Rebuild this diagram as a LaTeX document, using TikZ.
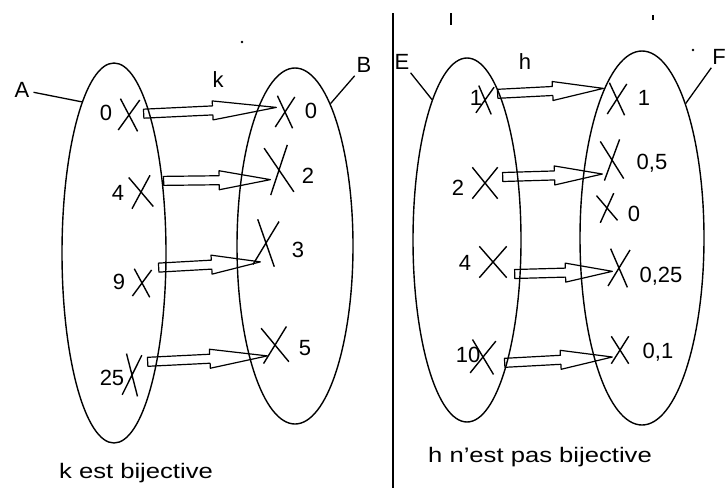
\documentclass[tikz,border=0pt]{standalone}
\usepackage{fontspec}
\setmainfont{Liberation Sans}
\usetikzlibrary{calc,shapes.misc,shapes.geometric}
\begin{document}
\begin{tikzpicture}[x=1pt,y=-1pt,
  setshape/.style={draw, ellipse, line width=1.4pt, inner sep=0pt},
  cr/.style={cross out, draw, line width=1.4pt, inner sep=0pt},
  lab/.style={inner sep=0pt, font=\fontsize{22}{22}\selectfont},
  captext/.style={inner sep=0pt, anchor=base, font=\fontsize{21}{21}\selectfont},
  tickmark/.style={line width=1.4pt},
  fat/.style={draw, line width=1.2pt, line join=round, to path={
     ($(\tikztostart)!4.5pt!90:(\tikztotarget)$)
  -- ($(\tikztostart)!0.52!(\tikztotarget)!4.5pt!90:(\tikztotarget)$)
  -- ($(\tikztostart)!0.52!(\tikztotarget)!9.5pt!90:(\tikztotarget)$)
  -- (\tikztotarget)
  -- ($(\tikztostart)!0.52!(\tikztotarget)!9.5pt!-90:(\tikztotarget)$)
  -- ($(\tikztostart)!0.52!(\tikztotarget)!4.5pt!-90:(\tikztotarget)$)
  -- ($(\tikztostart)!4.5pt!-90:(\tikztotarget)$) -- cycle }}]
\useasboundingbox (0,0) rectangle (727,488);

% sets
\node[setshape, minimum width=104pt, minimum height=380pt] (setA) at (114,253) {};
\node[setshape, minimum width=116pt, minimum height=356pt] (setB) at (295,246) {};
\node[setshape, minimum width=108pt, minimum height=364pt] (setE) at (467,240) {};
\node[setshape, minimum width=124pt, minimum height=374pt] (setF) at (642,238) {};

% divider
\coordinate (dtop) at (393,13);
\coordinate (dbot) at (393,488);
\draw[line width=1.6pt] (dtop) -- (dbot);

% set names
\node[lab, inner sep=4pt] (labA) at (22,90) {A};
\node[lab, inner sep=3pt] (labB) at (364,65) {B};
\node[lab, inner sep=3pt] (labE) at (402,62) {E};
\node[lab, inner sep=3pt] (labF) at (719,57) {F};
\draw[line width=1.3pt] (labA) -- (setA.102);
\draw[line width=1.3pt] (setB.76) -- (labB);
\draw[line width=1.3pt] (labE) -- (setE.104);
\draw[line width=1.3pt] (setF.72) -- (labF);

% function names
\node[lab] (k) at (218,80) {k};
\node[lab] (h) at (525,62) {h};

% stray marks
\fill (242,42) circle (1.4pt);
\fill (693,50) circle (1.4pt);
\draw[tickmark] (451,13) -- (451,25);
\draw[tickmark] (653,15) -- (653,20);

% crosses, set A
\node[cr, minimum width=18pt, minimum height=30pt, rotate=-4] (a0) at (129,115) {};
\node[cr, minimum width=20pt, minimum height=30pt, rotate=6] (a4) at (141,192) {};
\node[cr, minimum width=16pt, minimum height=26pt, rotate=-4] (a9) at (142,283) {};
\node[cr, minimum width=14pt, minimum height=40pt, rotate=-6] (a25) at (132,375) {};
% set B
\node[cr, minimum width=16pt, minimum height=30pt, rotate=-4] (b0) at (285,112) {};
\node[cr, minimum width=22pt, minimum height=46pt, rotate=8] (b2) at (279,170) {};
\node[cr, minimum width=20pt, minimum height=44pt, rotate=-6] (b3) at (266,243) {};
\node[cr, minimum width=24pt, minimum height=34pt, rotate=4] (b5) at (275,345) {};
% set E
\node[cr, minimum width=14pt, minimum height=26pt, rotate=-6] (e1) at (485,100) {};
\node[cr, minimum width=24pt, minimum height=30pt] (e2) at (485,183) {};
\node[cr, minimum width=26pt, minimum height=30pt] (e4) at (493,262) {};
\node[cr, minimum width=22pt, minimum height=32pt, rotate=-4] (e10) at (483,357) {};
% set F
\node[cr, minimum width=16pt, minimum height=30pt, rotate=-4] (f1) at (617,99) {};
\node[cr, minimum width=18pt, minimum height=38pt, rotate=6] (f05) at (612,160) {};
\node[cr, minimum width=16pt, minimum height=26pt, rotate=8] (f0) at (607,208) {};
\node[cr, minimum width=18pt, minimum height=36pt, rotate=-4] (f025) at (619,268) {};
\node[cr, minimum width=16pt, minimum height=26pt] (f01) at (620,350) {};

% element labels
\node[lab] (la0) at (106,113) {0};
\node[lab] (la4) at (118,193) {4};
\node[lab] (la9) at (119,282) {9};
\node[lab] (la25) at (112,378) {25};
\node[lab] (lb0) at (311,111) {0};
\node[lab] (lb2) at (308,176) {2};
\node[lab] (lb3) at (298,250) {3};
\node[lab] (lb5) at (305,348) {5};
\node[lab] (le1) at (476,98) {1};
\node[lab] (le2) at (458,188) {2};
\node[lab] (le4) at (465,263) {4};
\node[lab] (le10) at (468,355) {10};
\node[lab] (lf1) at (644,98) {1};
\node[lab] (lf05) at (652,163) {0,5};
\node[lab] (lf0) at (634,214) {0};
\node[lab] (lf025) at (661,276) {0,25};
\node[lab] (lf01) at (658,352) {0,1};

% arrows k
\draw[fat] ([xshift=5pt,yshift=2pt]a0.east) to ([xshift=0pt,yshift=4pt]b0.west);
\draw[fat] ([xshift=12pt,yshift=10pt]a4.east) to ([xshift=3pt,yshift=-8pt]b2.west);
\draw[fat] ([xshift=8pt,yshift=16pt]a9.east) to ([xshift=5pt,yshift=-20pt]b3.west);
\draw[fat] ([xshift=8pt,yshift=14pt]a25.east) to ([xshift=5pt,yshift=-10pt]b5.west);
% arrows h
\draw[fat] ([xshift=5pt,yshift=7pt]e1.east) to ([xshift=-5pt,yshift=10pt]f1.west);
\draw[fat] ([xshift=5pt,yshift=6pt]e2.east) to ([xshift=0pt,yshift=-13pt]f05.west);
\draw[fat] ([xshift=8pt,yshift=-12pt]e4.east) to ([xshift=3pt,yshift=-4pt]f025.west);
\draw[fat] ([xshift=10pt,yshift=-5pt]e10.east) to ([xshift=1pt,yshift=-7pt]f01.west);

% captions
\node[captext] (capk) at (136,478) {\scalebox{1.22}[1]{k est bijective}};
\node[captext] (caph) at (540,462) {\scalebox{1.22}[1]{h n'est pas bijective}};
\end{tikzpicture}
\end{document}
